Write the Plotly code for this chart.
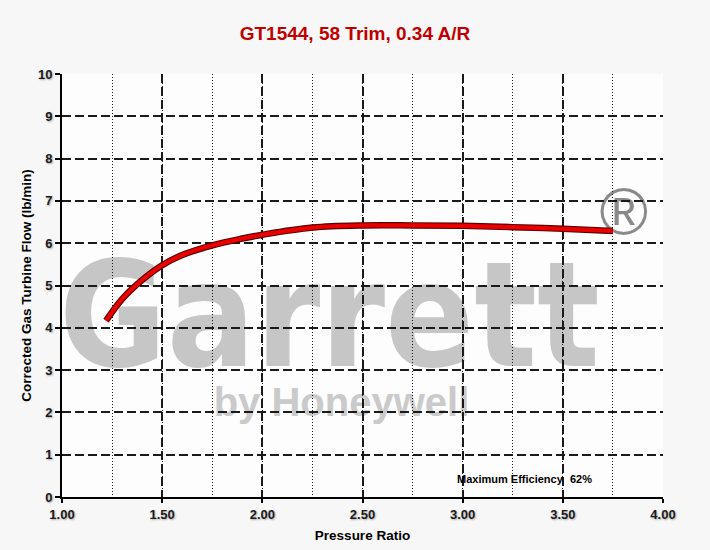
import plotly.graph_objects as go

# Data
pressure_ratio = [1.22, 1.30, 1.40, 1.50, 1.60, 1.75, 1.90, 2.00, 2.25, 2.50, 2.75, 3.00, 3.25, 3.50, 3.75]
gas_flow = [4.17, 4.68, 5.13, 5.48, 5.72, 5.95, 6.11, 6.20, 6.37, 6.42, 6.42, 6.41, 6.38, 6.34, 6.29]

x_ticks = [1.0, 1.5, 2.0, 2.5, 3.0, 3.5, 4.0]
x_tick_labels = ["1.00", "1.50", "2.00", "2.50", "3.00", "3.50", "4.00"]
y_ticks = list(range(0, 11))

title_text = "GT1544, 58 Trim, 0.34 A/R"
x_title = "Pressure Ratio"
y_title = "Corrected Gas Turbine Flow (lb/min)"
eff_label = "Maximum Efficiency"
eff_value = "62%"

fig = go.Figure()

# dark edge of the curve
fig.add_trace(go.Scatter(x=pressure_ratio, y=gas_flow, mode="lines",
                         line=dict(color="#5a0000", width=6.5, shape="spline", smoothing=1.0),
                         hoverinfo="skip", showlegend=False))
fig.add_trace(go.Scatter(x=pressure_ratio, y=gas_flow, mode="lines",
                         line=dict(color="#ea0000", width=4.2, shape="spline", smoothing=1.0),
                         showlegend=False))

tickfont = dict(family="Liberation Sans, Arial", size=13, color="#1a1a1a",
                weight="bold", shadow="1px 1px 2px #aaaaaa")

fig.update_layout(
    width=710, height=550,
    margin=dict(l=62, r=47, t=74, b=53, autoexpand=False),
    paper_bgcolor="#f7f7f7",
    plot_bgcolor="#fdfdfd",
    title=dict(text="<b>" + title_text + "</b>", x=0.5, xanchor="center", y=0.94, yanchor="middle",
               font=dict(family="Liberation Sans, Arial", size=19, color="#c00000")),
    xaxis=dict(range=[1.0, 4.0], tickvals=x_ticks, ticktext=x_tick_labels,
               showline=True, linecolor="#000000", linewidth=2, automargin=False,
               ticks="outside", ticklen=4, tickcolor="#000000", tickwidth=1.5,
               showgrid=True, gridcolor="#1a1a1a", gridwidth=1.5, griddash="9px,4px",
               minor=dict(dtick=0.25, tick0=1.0, showgrid=True, gridcolor="#1a1a1a",
                          gridwidth=1, griddash="1px,2px", ticks=""),
               zeroline=False, tickfont=tickfont,
               title=dict(text="<b>" + x_title + "</b>", standoff=10,
                          font=dict(family="Liberation Sans, Arial", size=13.5, color="#000000"))),
    yaxis=dict(range=[0, 10], tickvals=y_ticks,
               showline=True, linecolor="#000000", linewidth=2, automargin=False,
               ticks="outside", ticklen=5, tickcolor="#000000", tickwidth=1.5,
               showgrid=True, gridcolor="#1a1a1a", gridwidth=1.5, griddash="9px,4px",
               zeroline=False, tickfont=tickfont,
               title=dict(text="<b>" + y_title + "</b>", standoff=3,
                          font=dict(family="Liberation Sans, Arial", size=13.5, color="#000000"))),
)

# Watermark (drawn below the grid)
fig.add_shape(type="rect", xref="paper", yref="paper", x0=0.0, x1=0.89, y0=0.262, y1=0.647,
              line=dict(width=0), fillcolor="rgba(0,0,0,0)", layer="below",
              label=dict(text="Garrett", textposition="middle center",
                         font=dict(family="DejaVu Sans Condensed", weight="bold", size=146, color="#c6c6c6")))
fig.add_shape(type="rect", xref="paper", yref="paper", x0=0.24, x1=0.69, y0=0.19, y1=0.28,
              line=dict(width=0), fillcolor="rgba(0,0,0,0)", layer="below",
              label=dict(text="by Honeywell", textposition="middle center",
                         font=dict(family="Liberation Sans, Arial", weight="bold", size=40, color="#cacaca")))
fig.add_shape(type="rect", xref="paper", yref="paper", x0=0.865, x1=1.005, y0=0.62, y1=0.76,
              line=dict(width=0), fillcolor="rgba(0,0,0,0)", layer="below",
              label=dict(text="®", textposition="middle center",
                         font=dict(family="Liberation Sans, Arial", size=66, color="#8a8a8a")))

fig.add_annotation(x=3.237, y=0.43, xref="x", yref="y", text="<b>" + eff_label + "</b>",
                   showarrow=False, font=dict(family="Liberation Sans, Arial", size=11, color="#000000"))
fig.add_annotation(x=3.59, y=0.43, xref="x", yref="y", text="<b>" + eff_value + "</b>",
                   showarrow=False, font=dict(family="Liberation Sans, Arial", size=11, color="#000000"))

fig.write_html("out.html", config={"displayModeBar": False},
               post_script="document.body.style.margin='0';")
